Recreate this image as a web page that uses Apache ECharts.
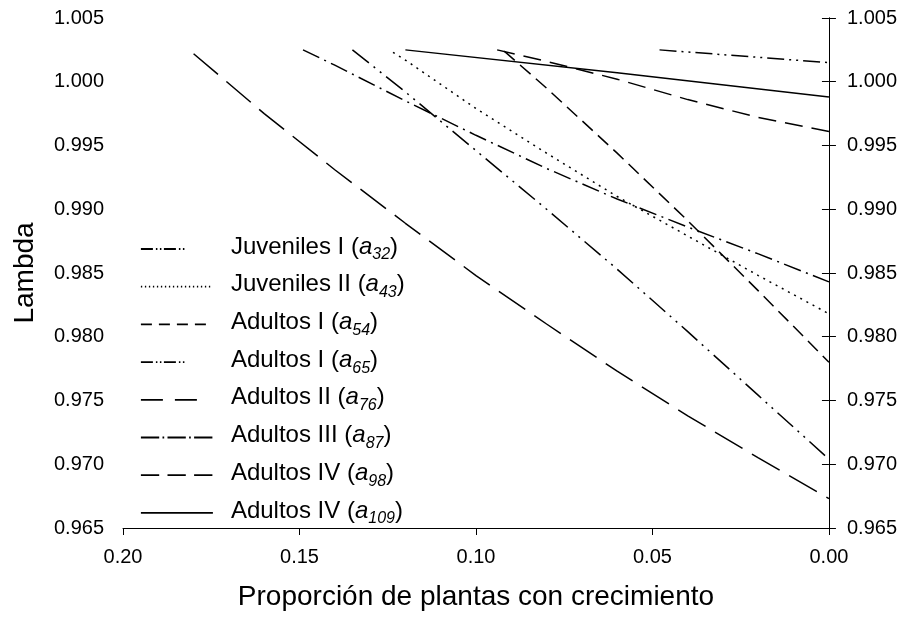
<!DOCTYPE html>
<html>
<head>
<meta charset="utf-8">
<script src="https://cdn.jsdelivr.net/npm/echarts@6/dist/echarts.min.js"></script>
<style>
  html, body { margin: 0; padding: 0; background: #fff; }
  #chart { width: 900px; height: 618px; }
</style>
</head>
<body>
<div id="chart"></div>
<script>
// Proportion of plants with growth (x) and the resulting population growth rate lambda (y)
const xTicks = [0.20, 0.15, 0.10, 0.05, 0.00];
const yTicks = [0.965, 0.970, 0.975, 0.980, 0.985, 0.990, 0.995, 1.000, 1.005];

const stageNames = [
  'Juveniles I (a32)',
  'Juveniles II (a43)',
  'Adultos I (a54)',
  'Adultos I (a65)',
  'Adultos II (a76)',
  'Adultos III (a87)',
  'Adultos IV (a98)',
  'Adultos IV (a109)'
];

const propA32 = [0.048, 0.00];
const lamA32  = [1.0025, 1.0015];

const propA43 = [0.1235, 0.12, 0.10, 0.08, 0.06, 0.04, 0.02, 0.00];
const lamA43  = [1.0023, 1.0017, 0.9979, 0.9944, 0.9910, 0.9879, 0.9848, 0.9818];

const propA54 = [0.092, 0.08, 0.06, 0.04, 0.02, 0.00];
const lamA54  = [1.0024, 0.9995, 0.9944, 0.9891, 0.9836, 0.9780];

const propA65 = [0.135, 0.12, 0.10, 0.08, 0.06, 0.04, 0.02, 0.00];
const lamA65  = [1.0025, 0.9992, 0.9946, 0.9900, 0.9853, 0.9804, 0.9754, 0.9704];

const propA76 = [0.18, 0.16, 0.14, 0.12, 0.10, 0.08, 0.06, 0.04, 0.02, 0.00];
const lamA76  = [1.0022, 0.9975, 0.9931, 0.9889, 0.9848, 0.9810, 0.9773, 0.9738, 0.9705, 0.9673];

const propA87 = [0.149, 0.14, 0.12, 0.10, 0.08, 0.06, 0.04, 0.02, 0.00];
const lamA87  = [1.0025, 1.0013, 0.9985, 0.9958, 0.9932, 0.9908, 0.9886, 0.9865, 0.9843];

const propA98 = [0.094, 0.08, 0.06, 0.04, 0.02, 0.00];
const lamA98  = [1.0025, 1.0016, 1.0002, 0.9986, 0.9972, 0.9961];

const propA109 = [0.12, 0.06, 0.00];
const lamA109  = [1.0025, 1.0007, 0.9988];

const FONT = 'Liberation Sans, Arial, sans-serif';

// dash pattern of each stage line in the plot
const lineDashes = [
  [17, 5, 2, 5, 2, 5],
  [2, 5],
  [14, 7],
  [21, 6, 2, 6, 2, 6],
  [32, 11],
  [18, 5.5, 2, 5.5],
  [18, 9],
  'solid'
];

// dash pattern of each key sample in the legend
const keyDashes = [
  [12, 3, 1.5, 2.5, 1.5, 2.5, 12, 3, 1.5, 2.5, 1.5, 30],
  [1.3, 2.7],
  [11, 7],
  [12, 3, 1.5, 2.5, 1.5, 2.5, 12, 3, 1.5, 2.5, 1.5, 30],
  [22, 12, 22, 16],
  [18.3, 3.3, 1.7, 3.3],
  [18.3, 8.3],
  'solid'
];

const seriesX = [propA32, propA43, propA54, propA65, propA76, propA87, propA98, propA109];
const seriesY = [lamA32, lamA43, lamA54, lamA65, lamA76, lamA87, lamA98, lamA109];

const series = stageNames.map((name, i) => ({
  name: name,
  type: 'line',
  symbol: 'none',
  showSymbol: false,
  silent: true,
  animation: false,
  data: seriesX[i].map((x, k) => [x, seriesY[i][k]]),
  lineStyle: { color: '#000', width: 1.5, type: lineDashes[i] },
  itemStyle: { color: '#000' }
}));

function legendLabel(name) {
  const m = name.match(/^(.*)\(a(\d+)\)$/);
  return '{h|}{sp|}{t|' + m[1] + '(}{a|a}{s|' + m[2] + '}{t|)}';
}

const axisLabelStyle = { color: '#000', fontSize: 20, fontFamily: FONT };

const yAxisBase = {
  type: 'value',
  min: 0.965,
  max: 1.005,
  interval: 0.005,
  splitLine: { show: false },
  axisLine: { show: true, lineStyle: { color: '#000', width: 1 } },
  axisTick: { show: true, length: 7, lineStyle: { color: '#000', width: 1 } },
  axisLabel: Object.assign({ margin: 19, formatter: v => v.toFixed(3) }, axisLabelStyle)
};

const option = {
  backgroundColor: '#fff',
  animation: false,
  grid: { left: 123, right: 70, top: 18, bottom: 90, containLabel: false },
  legend: {
    orient: 'vertical',
    left: 140,
    top: 235,
    padding: 0,
    itemWidth: 72,
    itemHeight: 14,
    itemGap: 9.7,
    selectedMode: false,
    itemStyle: { opacity: 0 },
    data: stageNames.map((name, i) => ({
      name: name,
      itemStyle: { opacity: 0 },
      lineStyle: { color: '#000', width: 1.8, type: keyDashes[i] }
    })),
    formatter: legendLabel,
    textStyle: {
      color: '#000',
      fontFamily: FONT,
      rich: {
        h: { lineHeight: 28, width: 0 },
        sp: { width: 13 },
        t: { fontSize: 24, fontFamily: FONT, color: '#000', lineHeight: 24, verticalAlign: 'top' },
        a: { fontSize: 24, fontFamily: FONT, fontStyle: 'italic', color: '#000', lineHeight: 24, verticalAlign: 'top' },
        s: { fontSize: 16, fontFamily: FONT, fontStyle: 'italic', color: '#000', lineHeight: 16, verticalAlign: 'bottom' }
      }
    }
  },
  xAxis: {
    type: 'value',
    inverse: true,
    min: 0,
    max: 0.2,
    interval: 0.05,
    name: 'Proporción de plantas con crecimiento',
    nameLocation: 'middle',
    nameGap: 55,
    nameTextStyle: { color: '#000', fontSize: 28, fontFamily: FONT },
    splitLine: { show: false },
    axisLine: { show: true, onZero: false, lineStyle: { color: '#000', width: 1 } },
    axisTick: { show: true, length: 7, lineStyle: { color: '#000', width: 1 } },
    axisLabel: Object.assign({ margin: 19, formatter: v => v.toFixed(2) }, axisLabelStyle)
  },
  yAxis: [
    Object.assign({}, yAxisBase, {
      position: 'left',
      name: 'Lambda',
      nameLocation: 'middle',
      nameRotate: 90,
      nameGap: 84,
      nameTextStyle: { color: '#000', fontSize: 28, fontFamily: FONT }
    }),
    Object.assign({}, yAxisBase, {
      position: 'right',
      axisLabel: Object.assign({ margin: 18, formatter: v => v.toFixed(3) }, axisLabelStyle)
    })
  ],
  series: series
};

const chart = echarts.init(document.getElementById('chart'), null, { renderer: 'canvas' });
chart.setOption(option);
</script>
</body>
</html>
